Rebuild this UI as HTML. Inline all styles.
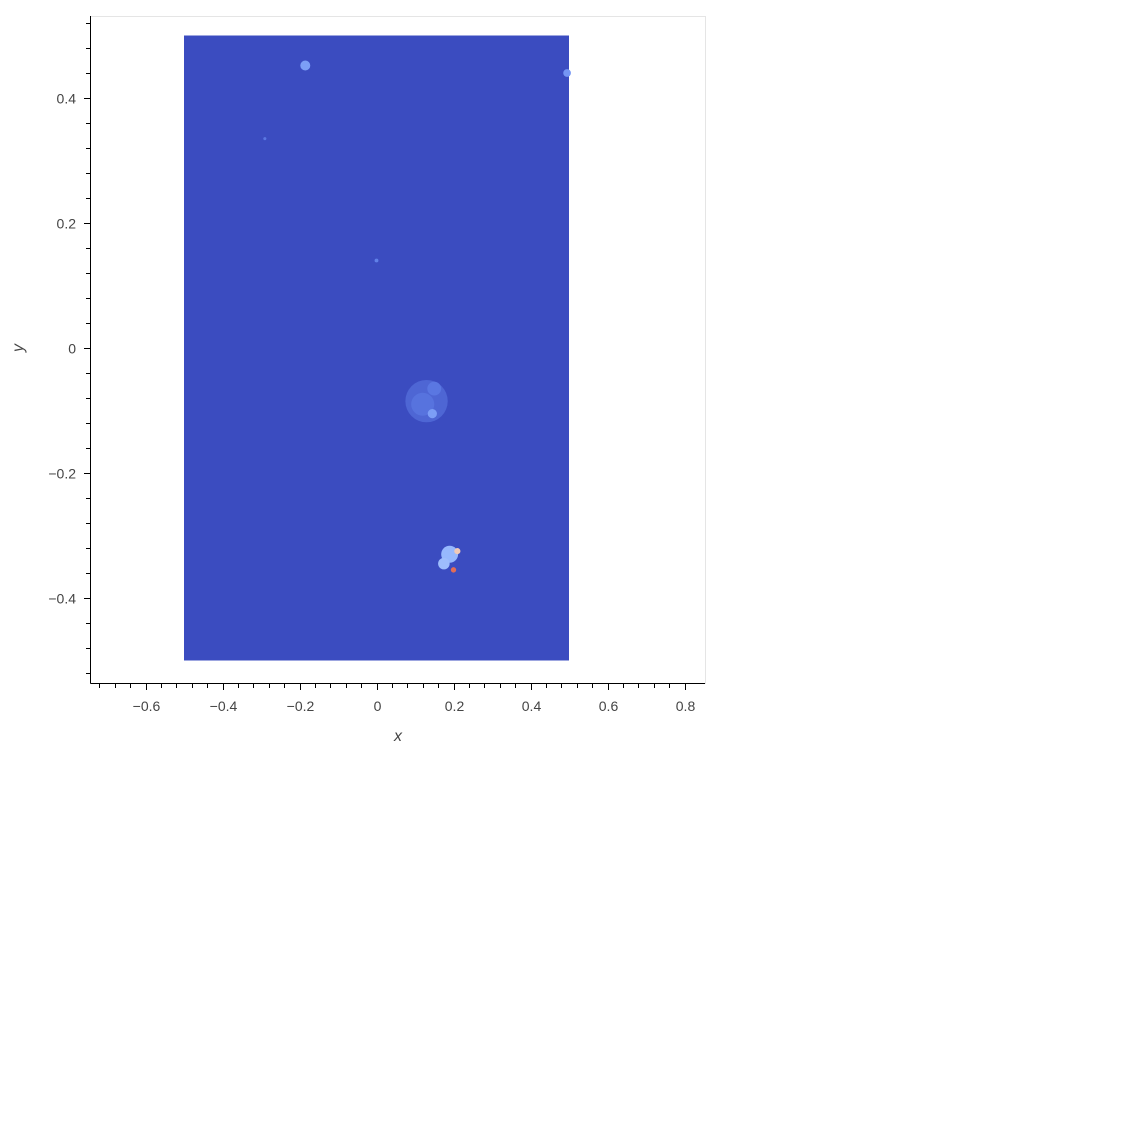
<!DOCTYPE html>
<html><head><meta charset="utf-8"><style>
html,body{margin:0;padding:0;background:#fff;width:1125px;height:1125px;overflow:hidden}
svg text{font-family:"Liberation Sans",sans-serif;}
</style></head><body>
<svg id="chart" width="1125" height="1125" xmlns="http://www.w3.org/2000/svg">
<rect x="90.5" y="16.5" width="615" height="667" fill="#fff" stroke="#e5e5e5"/>
<g id="img"></g>
<g id="axes"></g>
</svg>
<script>
// data
const xTicks=[-0.6,-0.4,-0.2,0,0.2,0.4,0.6,0.8];
const yTicks=[-0.4,-0.2,0,0.2,0.4];
const imgX=[-0.5,0.5];
const imgY=[-0.5,0.5];
const baseValue=0;
const blobX=[0.13,0.12,0.15,0.145,-0.185,0.495,0.19,0.175,0.21,0.2,0.0,-0.29];
const blobY=[-0.085,-0.09,-0.065,-0.105,0.452,0.44,-0.33,-0.345,-0.325,-0.355,0.14,0.335];
const blobR=[0.055,0.03,0.018,0.012,0.013,0.01,0.022,0.015,0.008,0.007,0.005,0.004];
const blobV=[0.06,0.09,0.1,0.2,0.2,0.18,0.28,0.3,0.6,0.85,0.12,0.1];

const sx=v=>376.5+(v)*385;
const sy=v=>348-(v)*625;
function coolwarm(t){
  const stops=[[59,76,192],[98,130,234],[141,176,254],[184,208,249],[221,221,221],[245,196,173],[244,154,123],[222,96,77],[180,4,38]];
  t=Math.max(0,Math.min(1,t))*(stops.length-1);const i=Math.min(Math.floor(t),stops.length-2),f=t-i;
  const c=stops[i].map((a,k)=>Math.round(a+(stops[i+1][k]-a)*f));return `rgb(${c})`;
}
const NS="http://www.w3.org/2000/svg";
const img=document.getElementById('img'),ax=document.getElementById('axes');
function mk(tag,attrs,parent){const e=document.createElementNS(NS,tag);for(const k in attrs)e.setAttribute(k,attrs[k]);parent.appendChild(e);return e;}
const bg=mk('rect',{x:sx(imgX[0]),y:sy(imgY[1]),width:sx(imgX[1])-sx(imgX[0]),height:sy(imgY[0])-sy(imgY[1]),fill:coolwarm(baseValue)},img);


blobX.forEach((bx,i)=>{
  const c=mk('ellipse',{cx:sx(bx),cy:sy(blobY[i]),rx:blobR[i]*385,ry:blobR[i]*385,fill:coolwarm(blobV[i])},img);
  
  
});
mk('line',{x1:90.5,y1:683.5,x2:705,y2:683.5,stroke:'#000'},ax);
mk('line',{x1:90.5,y1:16,x2:90.5,y2:683.5,stroke:'#000'},ax);
for(let v=-0.72;v<=0.84;v+=0.04){const x=Math.round(sx(v))+0.5;if(x<91||x>705)continue;mk('line',{x1:x,y1:684,x2:x,y2:688,stroke:'#000'},ax);}
for(let v=-0.52;v<=0.52;v+=0.04){const y=Math.round(sy(v))+0.5;if(y<16||y>683)continue;mk('line',{x1:86,y1:y,x2:90,y2:y,stroke:'#000'},ax);}
xTicks.forEach(v=>{const x=Math.round(sx(v))+0.5;mk('line',{x1:x,y1:684,x2:x,y2:690,stroke:'#000'},ax);
  const t=mk('text',{x:x,y:711,'text-anchor':'middle','font-size':14,fill:'#444'},ax);t.textContent=(v<0?'\u2212':'')+(v===0?'0':Math.abs(v).toString());
  
  });
yTicks.forEach(v=>{const y=Math.round(sy(v))+0.5;mk('line',{x1:84,y1:y,x2:90,y2:y,stroke:'#000'},ax);
  const t=mk('text',{x:76,y:y+5,'text-anchor':'end','font-size':14,fill:'#444'},ax);t.textContent=(v<0?'\u2212':'')+(v===0?'0':Math.abs(v).toString());
  
  });
const xt=mk('text',{x:398,y:741,'text-anchor':'middle','font-size':16,'font-style':'italic',fill:'#444'},ax);xt.textContent='x';


const yt=mk('text',{x:23,y:348,'text-anchor':'middle','font-size':16,'font-style':'italic',fill:'#444',transform:'rotate(-90 23 348)'},ax);yt.textContent='y';


</script>
</body></html>
